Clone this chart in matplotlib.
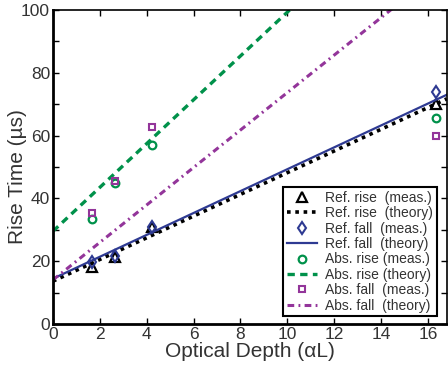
import numpy as np
import matplotlib
matplotlib.use('Agg')
import matplotlib.pyplot as plt

plt.rcParams['font.family'] = ['Liberation Sans', 'DejaVu Sans']

# измерения
x_meas = [1.65, 2.65, 4.25, 16.35]
ref_rise_meas = [18.2, 21.3, 30.9, 70.0]
ref_fall_meas = [19.7, 21.5, 31.0, 74.0]
abs_rise_meas = [33.4, 45.0, 57.0, 65.6]
abs_fall_meas = [35.3, 45.5, 62.7, 60.0]

# теория: прямые от x=0 до правого края
x_theory = [0, 16.8]
ref_rise_theory = [13.6, 71.7]
ref_fall_theory = [14.4, 73.0]
abs_rise_theory = [29.5, 146.8]
abs_fall_theory = [14.0, 114.3]

labels = ['Ref. rise  (meas.)', 'Ref. rise  (theory)', 'Ref. fall  (meas.)', 'Ref. fall  (theory)',
          'Abs. rise (meas.)', 'Abs. rise (theory)', 'Abs. fall  (meas.)', 'Abs. fall  (theory)']

green = '#00914a'
purple = '#93359a'
blue = '#2e3a92'
txt = '#333333'

fig = plt.figure(figsize=(4.48, 3.74), dpi=100)
ax = fig.add_axes([0.118, 0.134, 0.879, 0.839])

ax.plot(x_meas, ref_rise_meas, '^', mfc='none', mec='black', mew=1.6, ms=6.5, label=labels[0])
ax.plot(x_theory, ref_rise_theory, color='black', lw=2.6, ls=(0, (1, 1.3)), label=labels[1])
ax.plot(x_meas, ref_fall_meas, 'd', mfc='none', mec=blue, mew=1.5, ms=6.5, label=labels[2])
ax.plot(x_theory, ref_fall_theory, color=blue, lw=1.6, label=labels[3])
ax.plot(x_meas, abs_rise_meas, 'o', mfc='none', mec=green, mew=1.6, ms=5.5, label=labels[4])
ax.plot(x_theory, abs_rise_theory, color=green, lw=2.4, ls=(0, (2.2, 1.6)), label=labels[5])
ax.plot(x_meas, abs_fall_meas, 's', mfc='none', mec=purple, mew=1.5, ms=5, label=labels[6])
ax.plot(x_theory, abs_fall_theory, color=purple, lw=2.2, ls=(0, (2.2, 1.4, 0.6, 1.4)), label=labels[7])

ax.set_xlim(0, 16.8)
ax.set_ylim(0, 100)
ax.set_xticks(range(0, 17, 2))
ax.set_yticks(range(0, 101, 20))
ax.set_yticks(range(10, 100, 20), minor=True)
ax.tick_params(which='both', direction='in', top=True, right=True, labelsize=12.5,
               labelcolor=txt, length=4, width=1, pad=2)

for side in ['left', 'bottom']:
    ax.spines[side].set_linewidth(2)
for side in ['top', 'right']:
    ax.spines[side].set_linewidth(1.2)

ax.set_xlabel('Optical Depth (\u03b1L)', fontsize=15, color=txt, labelpad=0)
ax.set_ylabel('Rise Time (\u00b5s)', fontsize=15, color=txt)
ax.yaxis.set_label_coords(-0.066, 0.47)

leg = ax.legend(loc='lower right', bbox_to_anchor=(0.975, 0.025), fontsize=10, fancybox=False,
                edgecolor='black', framealpha=1, handlelength=2.2, handletextpad=0.6,
                labelspacing=0.1, borderpad=0.25, borderaxespad=0)
leg.get_frame().set_linewidth(1.5)
for t in leg.get_texts():
    t.set_color(txt)

fig.savefig('out.png', dpi=100)
